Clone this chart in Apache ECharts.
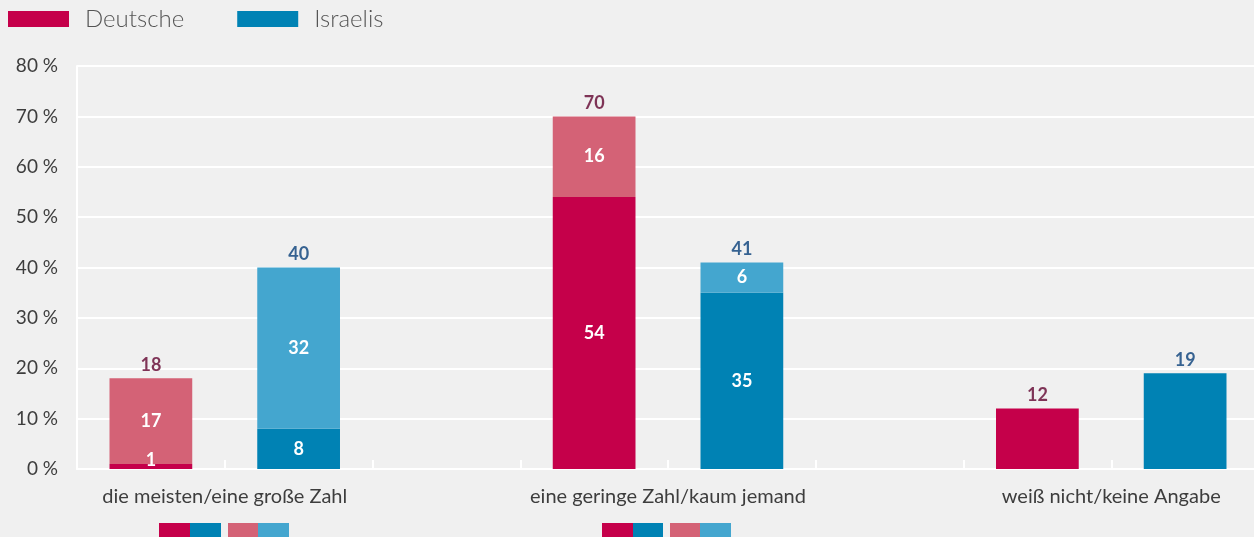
<!DOCTYPE html>
<html><head><meta charset="utf-8">
<script src="https://cdn.jsdelivr.net/npm/echarts@6/dist/echarts.min.js"></script>
<style>html,body{margin:0;padding:0;background:#f0f0f0}#c{width:1254px;height:537px}</style>
</head><body><div id="c"></div>
<script>
const categories = ['die meisten/eine große Zahl', 'eine geringe Zahl/kaum jemand', 'weiß nicht/keine Angabe'];
const deBase = [1, 54, 12];
const deTop = [17, 16, null];
const ilBase = [8, 35, 19];
const ilTop = [32, 6, null];
const deTotal = [18, 70, 12];
const ilTotal = [40, 41, 19];
const yTicks = [0, 10, 20, 30, 40, 50, 60, 70, 80];

const C = {deDark:'#c5004a', deLight:'#d46276', ilDark:'#0082b4', ilLight:'#44a6cf', deText:'#62042f', ilText:'#083f79'};

// 8 slots: D, I, gap per group (last group without trailing gap)
const slots = [];
categories.forEach((c, i) => { slots.push('D' + i, 'I' + i); if (i < categories.length - 1) slots.push(''); });
function fill(arr, prefix) {
  return slots.map(s => {
    if (s[0] !== prefix) return '-';
    const v = arr[+s.slice(1)];
    return v == null ? '-' : v;
  });
}
const inLabel = {show:true, position:'inside', color:'#fff', fontFamily:'Lato', fontWeight:'bold', fontSize:18};
function baseData(arr, topArr, prefix) {
  return slots.map(s => {
    if (s[0] !== prefix) return '-';
    const i = +s.slice(1);
    const lab = {show: topArr[i] != null};
    if (arr[i] < 3) lab.offset = [0, -6];
    return {value: arr[i], label: lab};
  });
}
// label axis: 17 points, group centers at 2, 8, 14
const labelAxis = [];
for (let k = 0; k <= 16; k++) labelAxis.push('');
categories.forEach((c, i) => { labelAxis[2 + 6 * i] = c; });

const chart = echarts.init(document.getElementById('c'));
chart.setOption({
  backgroundColor: '#f0f0f0',
  animation: false,
  textStyle: {fontFamily: 'Lato'},
  legend: {
    left: 8, top: 7, padding: 0, itemWidth: 61, itemHeight: 16, itemGap: 53,
    icon: 'rect', data: ['Deutsche', 'Israelis'],
    textStyle: {fontFamily: 'Lato', fontWeight: 300, fontSize: 24, color: '#555', padding: [0, 0, 0, 11]}
  },
  grid: {left: 77, width: 1182, top: 66, bottom: 68, containLabel: false, outerBoundsMode: 'none'},
  xAxis: [{
    type: 'category', data: slots, boundaryGap: true,
    axisLine: {show: true, lineStyle: {color: '#ffffff', width: 2}},
    axisTick: {show: true, inside: true, length: 9, interval: 0, lineStyle: {color: '#ffffff', width: 2}},
    axisLabel: {show: false}, splitLine: {show: false}
  }, {
    type: 'category', data: labelAxis, boundaryGap: false, position: 'bottom',
    axisLine: {show: false}, axisTick: {show: false}, splitLine: {show: false},
    axisLabel: {show: true, interval: 0, margin: 18, fontSize: 20, color: '#3d3d3d', fontFamily: 'Lato'}
  }],
  yAxis: {
    type: 'value', min: 0, max: 80, interval: 10,
    axisLine: {show: true, lineStyle: {color: '#ffffff', width: 2}},
    axisTick: {show: false},
    axisLabel: {formatter: v => yTicks.includes(v) ? v + '\u00a0%' : '', margin: 19, fontSize: 19, color: '#3d3d3d', fontFamily: 'Lato'},
    splitLine: {show: true, lineStyle: {color: '#ffffff', width: 2}}
  },
  series: [
    {name: 'Deutsche', type: 'bar', stack: 's', barCategoryGap: '44%', data: baseData(deBase, deTop, 'D'), itemStyle: {color: C.deDark}, label: inLabel, silent: true},
    {name: 'Deutsche+', type: 'bar', stack: 's', data: fill(deTop, 'D'), itemStyle: {color: C.deLight}, label: inLabel, silent: true},
    {name: 'Israelis', type: 'bar', stack: 's', data: baseData(ilBase, ilTop, 'I'), itemStyle: {color: C.ilDark}, label: inLabel, silent: true},
    {name: 'Israelis+', type: 'bar', stack: 's', data: fill(ilTop, 'I'), itemStyle: {color: C.ilLight}, label: inLabel, silent: true},
    {name: 'dtot', type: 'scatter', data: fill(deTotal, 'D'), symbolSize: 1, itemStyle: {color: 'rgba(0,0,0,0)'},
     label: {show: true, position: 'top', distance: 4, color: C.deText, fontFamily: 'Lato', fontWeight: 'bold', fontSize: 18}, silent: true},
    {name: 'itot', type: 'scatter', data: fill(ilTotal, 'I'), symbolSize: 1, itemStyle: {color: 'rgba(0,0,0,0)'},
     label: {show: true, position: 'top', distance: 4, color: C.ilText, fontFamily: 'Lato', fontWeight: 'bold', fontSize: 18}, silent: true}
  ],
  graphic: [
    {type: 'rect', left: 159, top: 523, shape: {width: 31, height: 14}, style: {fill: C.deDark}},
    {type: 'rect', left: 190, top: 523, shape: {width: 31, height: 14}, style: {fill: C.ilDark}},
    {type: 'rect', left: 228, top: 523, shape: {width: 30, height: 14}, style: {fill: C.deLight}},
    {type: 'rect', left: 258, top: 523, shape: {width: 31, height: 14}, style: {fill: C.ilLight}},
    {type: 'rect', left: 602, top: 523, shape: {width: 31, height: 14}, style: {fill: C.deDark}},
    {type: 'rect', left: 633, top: 523, shape: {width: 30, height: 14}, style: {fill: C.ilDark}},
    {type: 'rect', left: 670, top: 523, shape: {width: 30, height: 14}, style: {fill: C.deLight}},
    {type: 'rect', left: 700, top: 523, shape: {width: 31, height: 14}, style: {fill: C.ilLight}}
  ]
});
</script></body></html>
